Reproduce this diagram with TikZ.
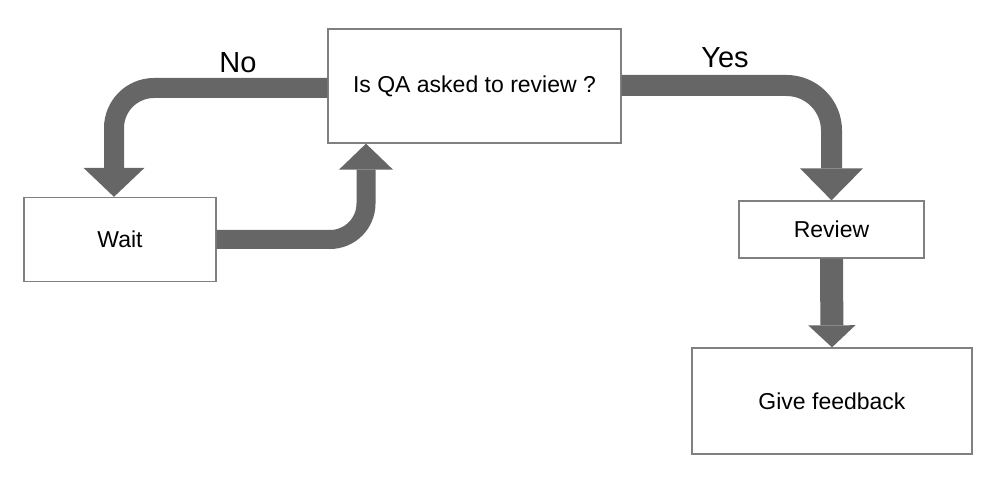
\documentclass[tikz,border=0pt]{standalone}
\usepackage{fontspec}
\setmainfont{Liberation Sans}
\usetikzlibrary{arrows.meta}

\begin{document}
\begin{tikzpicture}[x=1pt,y=-1pt,
        caja/.style={draw=borde,line width=1.3pt,inner sep=0pt,font=\fontsize{23}{27}\selectfont},
        flecha/.style={draw=gris,line width=#1,rounded corners=40pt},
        etiqueta/.style={anchor=base,font=\fontsize{29}{34}\selectfont}]
        %colores
        \colorlet{gris}{black!60}
        \colorlet{borde}{black!50}

        \useasboundingbox (0,0) rectangle (1002,481);

        % Cajas
        \node[caja,minimum width=293pt,minimum height=114pt] (qa) at (474.5,86) {Is QA asked to review ?};
        \node[caja,minimum width=192pt,minimum height=84pt] (wait) at (120,239.5) {Wait};
        \node[caja,minimum width=185pt,minimum height=57pt] (review) at (831.5,229.5) {Review};
        \node[caja,minimum width=280pt,minimum height=106pt] (feedback) at (832,401) {Give feedback};

        % Flechas
        \draw[flecha=20pt,-{Triangle[width=61pt,length=29pt,line width=0pt]}] ([yshift=-2pt]qa.west) -| ([xshift=-6pt]wait.north);
        \draw[flecha=19pt,rounded corners=36pt,-{Triangle[width=54pt,length=26pt,line width=0pt]}] (wait.east) -| ([xshift=-108.5pt]qa.south);
        \draw[flecha=21pt,rounded corners=45pt,-{Triangle[width=63pt,length=32pt,line width=0pt]}] ([yshift=0.5pt]qa.east) -| (review.north);
        \draw[flecha=23pt,-{Triangle[width=47pt,length=22pt,line width=0pt]}] (review.south) -- (feedback.north);

        % Si / No
        \node[etiqueta] (no) at (238,73) {No};
        \node[etiqueta] (yes) at (725,68) {Yes};
    \end{tikzpicture}
\end{document}
